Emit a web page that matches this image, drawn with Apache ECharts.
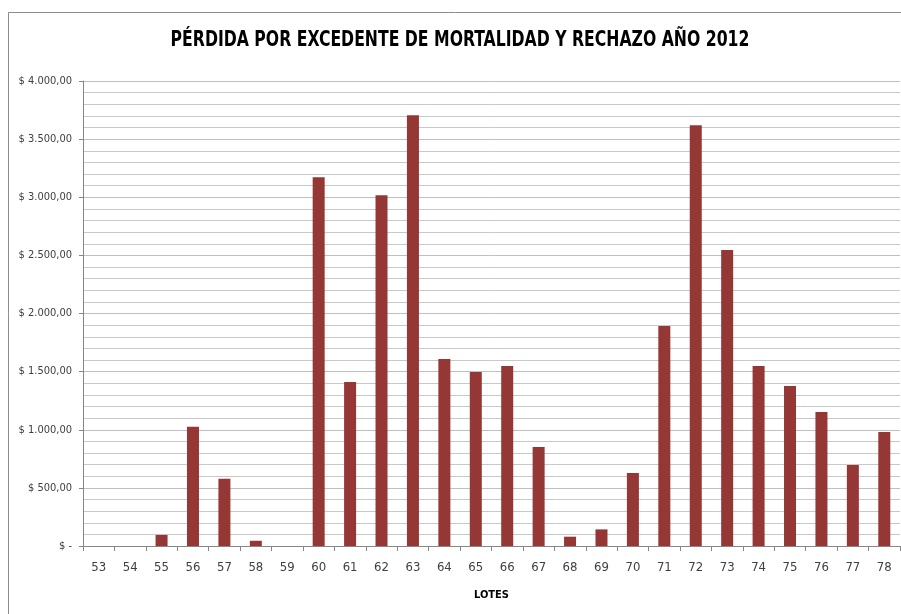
<!DOCTYPE html>
<html>
<head>
<meta charset="utf-8">
<script src="https://cdn.jsdelivr.net/npm/echarts@6/dist/echarts.min.js"></script>
<style>
html,body{margin:0;padding:0;background:#fff;}
#chart{width:901px;height:614px;}
</style>
</head>
<body>
<div id="chart"></div>
<script>
var lotes = ['53','54','55','56','57','58','59','60','61','62','63','64','65','66','67','68','69','70','71','72','73','74','75','76','77','78'];
var perdida = [0,0,95,1025,578,45,0,3172,1411,3017,3705,1609,1497,1548,852,80,143,628,1892,3619,2546,1548,1376,1153,697,981];
var yTicks = [0,500,1000,1500,2000,2500,3000,3500,4000];
var titulo = 'PÉRDIDA POR EXCEDENTE DE MORTALIDAD Y RECHAZO AÑO 2012';

var fontNarrow = '"DejaVu Sans Condensed","Liberation Sans Narrow",sans-serif';

function fmtPeso(v){
    if(v===0) return '$ -';
    var s=Math.round(v).toString().replace(/\B(?=(\d{3})+(?!\d))/g,'.');
    return '$ '+s+',00';
}

var chartObj = echarts.init(document.getElementById('chart'));
var option = {
    animation:false,
    backgroundColor:'#fff',
    graphic:[{
        type:'rect',
        shape:{x:8.5,y:12.5,width:1000,height:1000},
        style:{fill:'none',stroke:'#8c8c8c',lineWidth:1},
        silent:true
    },{
        // titulo algo comprimido, como Calibri
        type:'text',
        x:460,
        y:41,
        scaleX:0.83,
        style:{
            text:titulo,
            fontFamily:fontNarrow,
            fontWeight:'bold',
            fontSize:21,
            fill:'#000',
            align:'center',
            verticalAlign:'middle'
        },
        silent:true
    }],
    grid:{left:83,right:1,top:81,bottom:68},
    xAxis:{
        type:'category',
        data:lotes,
        name:'LOTES',
        nameLocation:'middle',
        nameGap:44,
        nameTextStyle:{fontFamily:fontNarrow,fontWeight:'bold',fontSize:11,color:'#000'},
        axisLine:{lineStyle:{color:'#868686'}},
        axisTick:{show:true,length:5,lineStyle:{color:'#868686'}},
        axisLabel:{fontFamily:fontNarrow,fontSize:13,color:'#404040',margin:15}
    },
    yAxis:{
        type:'value',
        min:0,
        max:yTicks[yTicks.length-1],
        interval:500,
        axisLine:{show:true,lineStyle:{color:'#868686'}},
        axisTick:{show:true,length:4,lineStyle:{color:'#868686'}},
        axisLabel:{fontFamily:fontNarrow,fontSize:11,color:'#404040',margin:11,formatter:fmtPeso},
        splitLine:{show:true,lineStyle:{color:'#bfbfbf',width:1}},
        minorTick:{show:false,splitNumber:5},
        minorSplitLine:{show:true,lineStyle:{color:'#c8c8c8',width:1}}
    },
    series:[{
        type:'bar',
        data:perdida,
        barWidth:12,
        itemStyle:{color:'#953735'}
    }]
};
chartObj.setOption(option);
</script>
</body>
</html>
